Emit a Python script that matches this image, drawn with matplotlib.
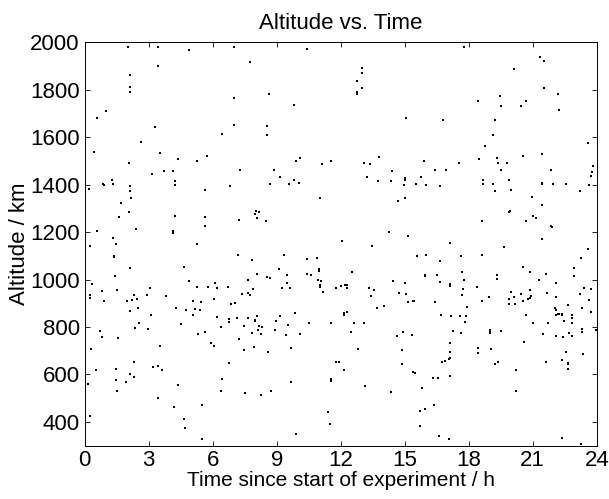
# coding = utf-8
import matplotlib
matplotlib.use('Agg')
import matplotlib.pyplot as plt
import numpy as np

plt.rcParams['font.family'] = ['Liberation Sans', 'DejaVu Sans']

# time since start (h)
hours = [
    2.02, 3.42, 4.88, 7.0, 7.75, 3.42, 2.13, 2.13, 2.13, 7.0, 1.0, 0.58, 7.0, 3.30, 6.44, 2.64,
    0.44, 3.53, 4.36, 5.72, 5.25, 2.06, 7.30, 3.16, 3.73, 4.16, 1.27, 1.33, 0.84, 0.91, 0.20, 2.13,
    2.13, 4.22, 4.25, 6.80, 5.66, 2.17, 1.72, 2.06, 1.61, 4.22, 5.66, 5.66, 7.22, 2.42, 0.59, 4.14,
    4.14,
    10.44, 8.63, 9.83, 8.55, 8.55, 12.98, 12.98, 12.78, 13.0, 12.78, 12.78, 15.08, 9.92, 10.09, 8.88,
    9.14, 8.70, 9.59, 9.83, 10.06, 11.11, 11.55, 13.11, 13.38, 13.77, 13.22, 13.73, 14.42, 14.34,
    15.0, 15.0, 14.95, 15.52, 14.67, 15.02, 11.03, 8.03, 7.97, 8.17, 8.08, 8.48, 14.28,
    17.77, 21.33, 21.52, 20.13, 21.52, 22.2, 18.44, 19.47, 19.49, 20.45, 20.70, 22.25, 16.80, 19.25,
    19.13, 18.75, 23.58, 15.89, 15.77, 15.99, 16.41, 16.92, 16.66, 17.53, 18.5, 19.33, 19.39, 19.78,
    19.49, 20.53, 21.41, 21.83, 18.67, 18.67, 19.14, 19.22, 19.88, 19.99, 21.45, 21.45, 21.95, 22.55,
    23.22, 23.63, 23.72, 23.78, 23.84, 20.97, 21.41, 19.88, 19.95, 18.63, 20.66, 20.99, 21.16, 21.83,
    21.92,
    0.23, 1.33, 1.47, 5.25, 1.38, 1.38, 2.14, 1.42, 0.36, 0.25, 0.25, 0.80, 1.52, 0.91, 2.0, 2.14,
    2.22, 2.33, 2.44, 2.5, 2.53, 2.38, 2.91, 3.05, 3.11, 2.97, 3.83, 0.70, 0.83, 1.56, 0.31, 0.53,
    0.14, 1.47, 1.47, 1.52, 2.13, 1.95, 2.33, 2.31, 3.52, 3.22, 3.44, 3.64, 3.44, 4.39, 4.19, 0.23,
    4.67, 4.69, 5.52, 5.5, 4.67, 4.30, 4.53, 4.77, 4.89, 5.08, 5.25, 5.19, 5.09, 5.41, 5.45, 5.30,
    5.66, 5.8, 5.94, 6.06, 6.08, 6.13, 6.22, 6.20, 6.41, 6.42, 6.41, 6.72, 6.77, 6.78, 6.78, 6.86,
    7.06, 7.14, 7.2, 7.22, 7.39, 7.45, 7.48, 7.53, 7.66, 7.67, 7.67, 7.75,
    7.84, 7.89, 8.06, 7.98, 7.98, 8.09, 8.16, 7.84, 7.94, 8.27, 8.31, 8.14, 8.55, 8.70, 8.59, 8.27,
    8.75, 8.91, 8.98, 9.17, 9.11, 9.27, 9.36, 9.44, 9.48, 9.48, 9.55, 9.61, 9.66, 9.67, 9.84, 9.89,
    10.08, 10.42, 10.41, 10.59, 10.53, 10.91, 11.0, 11.0, 10.95, 11.08, 11.05, 11.05, 11.19, 11.38,
    11.48, 11.53, 11.53, 11.55, 11.8, 11.8, 11.91, 12.05, 12.03, 12.17, 12.16, 12.16, 12.30, 12.19,
    12.30, 12.28, 12.53, 12.5, 12.63, 12.83, 13.09, 13.14, 13.31, 13.44, 13.47, 13.56, 13.69, 14.02,
    14.34, 14.45, 14.64, 14.73, 14.91, 14.89, 14.89, 15.0, 15.05, 15.14, 15.13, 15.33, 15.38, 15.45,
    15.38, 15.47, 15.56, 15.70, 15.70,
    15.99, 15.97, 15.97, 15.81, 15.94, 16.49, 16.64, 16.67, 16.41, 16.69, 16.38, 16.33, 16.58, 16.74,
    16.88, 16.61, 17.06, 17.13, 17.13, 17.13, 17.17, 17.27, 17.11, 17.13, 17.05, 17.13, 17.14, 17.64,
    17.67, 17.78, 17.74, 17.69, 17.61, 17.88, 17.80, 17.94, 17.64, 18.38, 18.63, 18.61, 18.94, 18.41,
    18.41, 18.99, 18.99, 18.99, 19.02, 19.24, 19.38, 19.30, 19.30, 19.52, 19.67, 19.89, 19.89, 20.0,
    20.11, 20.17, 20.47, 20.53, 20.53, 20.59, 20.66, 20.22, 20.23, 20.77, 20.88, 20.92, 20.85, 20.85,
    20.99, 21.30, 21.30, 21.41, 21.49, 21.6, 21.61, 21.67, 21.72, 22.1, 22.1, 22.03, 22.1, 22.1,
    22.16, 22.25, 22.35, 22.38, 22.47, 22.64, 22.08, 22.41, 22.7, 22.84, 22.56, 22.38, 22.64, 22.67,
    22.64, 22.38, 22.83, 22.83, 22.86, 22.95, 22.95, 23.19, 23.28, 23.31, 23.38, 23.31, 23.31, 23.34,
    23.58, 23.63, 23.74, 23.75, 23.97, 23.25,
]

# altitude (km)
altitude = [
    1982, 1982, 1966, 1982, 1916, 1902, 1862, 1814, 1793, 1764, 1710, 1682, 1651, 1643, 1612, 1580,
    1537, 1535, 1508, 1523, 1501, 1491, 1463, 1446, 1456, 1456, 1418, 1402, 1402, 1397, 1384, 1395,
    1373, 1417, 1397, 1393, 1376, 1342, 1321, 1286, 1265, 1267, 1263, 1228, 1252, 1215, 1204, 1204,
    1197,
    1972, 1782, 1738, 1648, 1609, 1893, 1873, 1837, 1807, 1789, 1782, 1682, 1501, 1512, 1464,
    1432, 1404, 1405, 1418, 1409, 1487, 1501, 1491, 1487, 1518, 1432, 1417, 1459, 1414,
    1428, 1419, 1400, 1402, 1332, 1345, 1343, 1291, 1276, 1283, 1258, 1245, 1199,
    1982, 1940, 1923, 1888, 1807, 1782, 1753, 1775, 1734, 1733, 1753, 1713, 1672, 1674,
    1608, 1563, 1577, 1502, 1431, 1398, 1464, 1460, 1393, 1491, 1507, 1511, 1490, 1493,
    1460, 1521, 1528, 1461, 1419, 1404, 1404, 1372, 1422, 1376, 1409, 1402, 1405, 1404,
    1373, 1400, 1435, 1452, 1477, 1348, 1314, 1287, 1289, 1245, 1245, 1269, 1258, 1224,
    1220,
    1141, 1177, 1152, 1152, 1100, 1094, 1049, 1015, 983, 937, 921, 951, 956, 909, 911, 869,
    914, 937, 917, 879, 819, 795, 937, 965, 850, 791, 930, 783, 760, 755, 708, 619,
    561, 622, 578, 532, 601, 570, 654, 589, 719, 632, 637, 618, 501, 557, 464, 425,
    414, 374, 327, 473, 1055, 880, 814, 872, 994, 911, 968, 875, 852, 872, 907, 772,
    779, 970, 734, 917, 720, 986, 965, 843, 799, 582, 529, 968, 834, 823, 650, 896,
    902, 838, 1103, 751, 940, 805, 705, 522, 837, 1000, 944, 937,
    1082, 959, 1024, 831, 826, 847, 805, 774, 717, 771, 802, 788, 1010, 1007, 695, 514,
    532, 788, 826, 847, 1046, 965, 1105, 765, 1021, 986, 810, 965, 712, 570, 858, 351,
    771, 1086, 1023, 1021, 816, 1093, 1044, 1037, 1000, 993, 976, 968, 948, 443,
    391, 580, 574, 816, 963, 653, 653, 1163, 972, 620, 858, 852, 862, 976,
    976, 965, 1034, 781, 816, 706, 816, 550, 966, 930, 1141, 955, 880, 890,
    525, 993, 764, 945, 779, 703, 644, 987, 938, 1184, 907, 768, 911, 910,
    609, 605, 1101, 445, 384,
    1103, 1020, 1015, 542, 454, 1021, 1080, 990, 904, 851, 473, 585, 585, 651,
    656, 339, 328, 1156, 983, 975, 847, 785, 734, 695, 667, 670, 595, 1101,
    1031, 999, 962, 937, 847, 847, 820, 886, 776, 968, 1103, 909, 925, 712,
    689, 789, 781, 775, 706, 644, 651, 1021, 1004, 783, 1139, 918, 897, 949,
    925, 899, 938, 1053, 909, 737, 850, 620, 531, 918, 923, 931, 956, 1034,
    819, 1000, 997, 1170, 769, 1023, 653, 942, 816, 986, 925, 879, 872, 852,
    855, 857, 857, 850, 826, 893, 761, 757, 776, 762, 695, 663, 649, 644,
    625, 331, 852, 837, 817, 1049, 1014, 941, 1089, 879, 965, 791, 779, 685,
    1129, 913, 959, 865, 789, 305,
]

xticks = [0, 3, 6, 9, 12, 15, 18, 21, 24]
yticks = [400, 600, 800, 1000, 1200, 1400, 1600, 1800, 2000]

fig = plt.figure(figsize=(6.09, 4.99), dpi=100)
ax = fig.add_axes([0.139, 0.107, 0.841, 0.808])
ax.plot(hours, altitude, linestyle='none', marker='s', markersize=1.7, color='k', markeredgewidth=0)

ax.set_xlim(0, 24)
ax.set_ylim(300, 2000)
ax.set_xticks(xticks)
ax.set_yticks(yticks)
ax.tick_params(direction='in', top=True, right=True, length=3.5, width=0.6, labelsize=16, pad=3.5)
for s in ax.spines.values():
    s.set_linewidth(0.7)

ax.set_title('Altitude vs. Time', fontsize=16, pad=9.5)
ax.set_xlabel('Time since start of experiment / h', fontsize=15, labelpad=0)
ax.set_ylabel('Altitude / km', fontsize=16, labelpad=0)

fig.savefig('out.png', dpi=100)
